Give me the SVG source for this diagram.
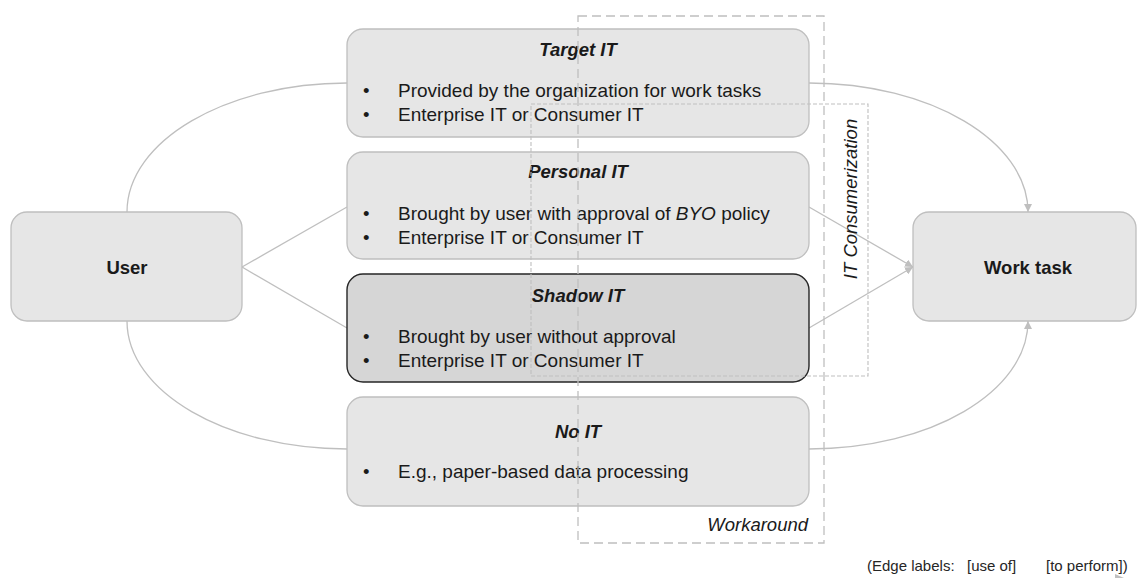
<svg xmlns="http://www.w3.org/2000/svg" width="1137" height="578" viewBox="0 0 1137 578">
<defs>
<style>
.node{fill:#e6e6e6;stroke:#bfbfbf;stroke-width:1.3}
.shadow{fill:#d6d6d6;stroke:#262626;stroke-width:1.4}
.edge{fill:none;stroke:#bfbfbf;stroke-width:1.3}
.t{font-family:"Liberation Sans",Arial,sans-serif;font-size:18.5px;fill:#1a1a1a}
.b{font-size:19px}
.title{font-weight:bold;font-style:italic;text-anchor:middle}
.lbl{font-weight:bold;text-anchor:middle}
.it{font-style:italic}
.dash1{fill:none;stroke:#bfbfbf;stroke-width:1.3;stroke-dasharray:9,5}
.dash2{fill:none;stroke:#bfbfbf;stroke-width:1.1;stroke-dasharray:4,2}
.small{font-family:"Liberation Sans",Arial,sans-serif;font-size:15px;fill:#262626}
</style>
<marker id="arr" viewBox="0 0 10 10" refX="10" refY="5" markerWidth="8" markerHeight="8" markerUnits="userSpaceOnUse" orient="auto">
<path d="M0,0 L10,5 L0,10 z" fill="#bfbfbf"/>
</marker>
</defs>
<rect width="1137" height="578" fill="#ffffff"/>

<g id="connectors">
<path class="edge" d="M127,212 C127,141 226,83 347,83"/>
<path class="edge" d="M127,321 C127,392 226,449 347,449"/>
<path class="edge" d="M242,267 L347,207"/>
<path class="edge" d="M242,267 L347,328"/>
<path class="edge" d="M809,83 C930,83 1028,141 1028,212" marker-end="url(#arr)"/>
<path class="edge" d="M809,449 C930,449 1028,392 1028,321" marker-end="url(#arr)"/>
<path class="edge" d="M809,207 L913,267" marker-end="url(#arr)"/>
<path class="edge" d="M809,328 L913,267" marker-end="url(#arr)"/>
</g>

<g id="user">
<rect class="node" x="11" y="212" width="231" height="109" rx="16"/>
<text class="t lbl" x="127" y="274">User</text>
</g>

<g id="worktask">
<rect class="node" x="913" y="212" width="223" height="109" rx="16"/>
<text class="t lbl" x="1028" y="274">Work task</text>
</g>

<g id="target-it">
<rect class="node" x="347" y="29" width="462" height="108" rx="16"/>
<text class="t title" x="578" y="56">Target IT</text>
<text class="t" x="363" y="97">•</text>
<text class="t b" x="398" y="97">Provided by the organization for work tasks</text>
<text class="t" x="363" y="121">•</text>
<text class="t b" x="398" y="121">Enterprise IT or Consumer IT</text>
</g>

<g id="personal-it">
<rect class="node" x="347" y="152" width="462" height="107" rx="16"/>
<text class="t title" x="578" y="178">Personal IT</text>
<text class="t" x="363" y="220">•</text>
<text class="t b" x="398" y="220">Brought by user with approval of <tspan class="it">BYO</tspan> policy</text>
<text class="t" x="363" y="244">•</text>
<text class="t b" x="398" y="244">Enterprise IT or Consumer IT</text>
</g>

<g id="shadow-it">
<rect class="shadow" x="347" y="274" width="462" height="108" rx="16"/>
<text class="t title" x="578" y="302">Shadow IT</text>
<text class="t" x="363" y="343">•</text>
<text class="t b" x="398" y="343">Brought by user without approval</text>
<text class="t" x="363" y="367">•</text>
<text class="t b" x="398" y="367">Enterprise IT or Consumer IT</text>
</g>

<g id="no-it">
<rect class="node" x="347" y="397" width="462" height="109" rx="16"/>
<text class="t title" x="578" y="438">No IT</text>
<text class="t" x="363" y="478">•</text>
<text class="t b" x="398" y="478">E.g., paper-based data processing</text>
</g>

<g id="workaround">
<rect class="dash1" x="578" y="16" width="246" height="527"/>
<text class="t it" x="808" y="531" text-anchor="end">Workaround</text>
</g>

<g id="it-consumerization">
<rect class="dash2" x="531" y="104" width="337" height="272"/>
<text class="t it" x="0" y="0" text-anchor="middle" transform="translate(857,199) rotate(-90)">IT Consumerization</text>
</g>

<g id="legend">
<text class="small" x="867" y="571">(Edge labels:</text>
<text class="small" x="967" y="571">[use of]</text>
<text class="small" x="1046" y="571">[to perform])</text>
<path d="M1115,574 L1124,578 L1115,578 z" fill="#bfbfbf"/>
</g>
</svg>
